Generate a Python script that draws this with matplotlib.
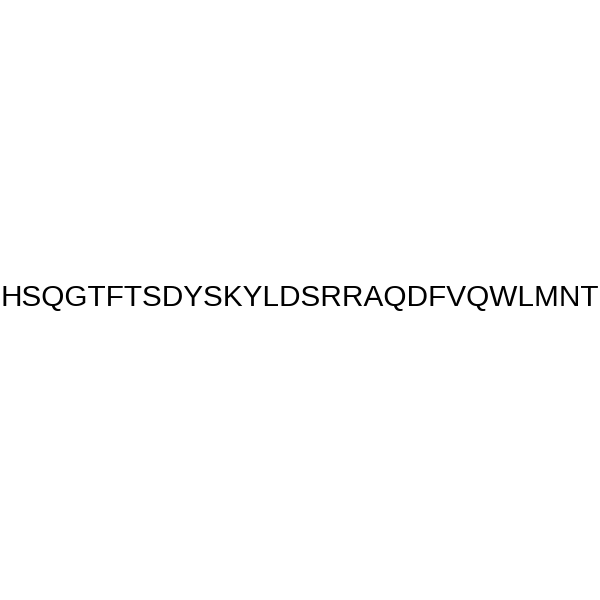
import matplotlib
matplotlib.use("Agg")
import matplotlib.pyplot as plt

sequence = "HSQGTFTSDYSKYLDSRRAQDFVQWLMNT"

fig = plt.figure(figsize=(6, 6), dpi=100)
fig.patch.set_facecolor("white")
fig.text(0.5, 1 - 298 / 600, sequence, ha="center", va="center",
         fontsize=21.4, family=["Liberation Sans", "DejaVu Sans"], color="black")
fig.savefig("out.png", dpi=100, facecolor="white")
